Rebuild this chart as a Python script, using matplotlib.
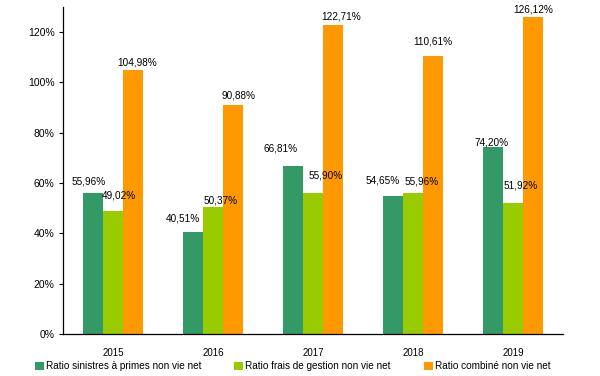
import matplotlib.pyplot as plt
import numpy as np
from matplotlib.patches import Patch

plt.rcParams['font.family'] = ['Liberation Sans', 'DejaVu Sans']

annees = ['2015', '2016', '2017', '2018', '2019']
sinistres = [55.96, 40.51, 66.81, 54.65, 74.20]
frais = [49.02, 50.37, 55.90, 55.96, 51.92]
combine = [104.98, 90.88, 122.71, 110.61, 126.12]
series = ['Ratio sinistres à primes non vie net',
          'Ratio frais de gestion non vie net',
          'Ratio combiné non vie net']
couleurs = ['#339966', '#99CC00', '#FF9900']

# decalage des etiquettes (pixels) par rapport au sommet des barres
dx_etiq = [[-4, -10, -12, -10, -1],
           [6, 8, 13, 9, 8],
           [4, 6, 8, 0, 0]]
dy_etiq = [[12, 13, 17, 16, 5],
           [15, 7, 18, 12, 18],
           [7, 10, 9, 14, 7]]

fig = plt.figure(figsize=(6, 3.76), dpi=100)
ax = fig.add_axes([0.105, 0.112, 0.8333, 0.870])

x = np.arange(len(annees))
w = 0.2
for i, (vals, c) in enumerate(zip([sinistres, frais, combine], couleurs)):
    pos = x + (i - 1) * w
    ax.bar(pos, vals, width=w, color=c, edgecolor='none')
    for j, (p, v) in enumerate(zip(pos, vals)):
        ax.annotate(('%.2f%%' % v).replace('.', ','), (p, v),
                    xytext=(dx_etiq[i][j] * 0.72, dy_etiq[i][j] * 0.72),
                    textcoords='offset points', ha='center', va='center',
                    fontsize=7.2)

ax.set_xlim(-0.5, len(annees) - 0.5)
ax.set_ylim(0, 130)
ax.set_yticks(range(0, 121, 20))
ax.set_yticklabels(['%d%%' % t for t in range(0, 121, 20)], fontsize=7.5)
ax.set_xticks(x)
ax.set_xticklabels(annees, fontsize=7)
ax.tick_params(axis='x', length=0, pad=10)
ax.tick_params(axis='y', length=3, width=0.8, direction='out', pad=3)
ax.spines['top'].set_visible(False)
ax.spines['right'].set_visible(False)
ax.spines['left'].set_linewidth(0.9)
ax.spines['bottom'].set_linewidth(0.9)

handles = [Patch(facecolor=c, edgecolor='none') for c in couleurs]
fig.legend(handles, series, loc='lower left', bbox_to_anchor=(0.058, 0.012),
           ncol=3, frameon=False, fontsize=7.2, handlelength=0.9,
           handleheight=0.9, handletextpad=0.2, columnspacing=3.3,
           borderpad=0, borderaxespad=0)

fig.savefig('out.png', dpi=100)
